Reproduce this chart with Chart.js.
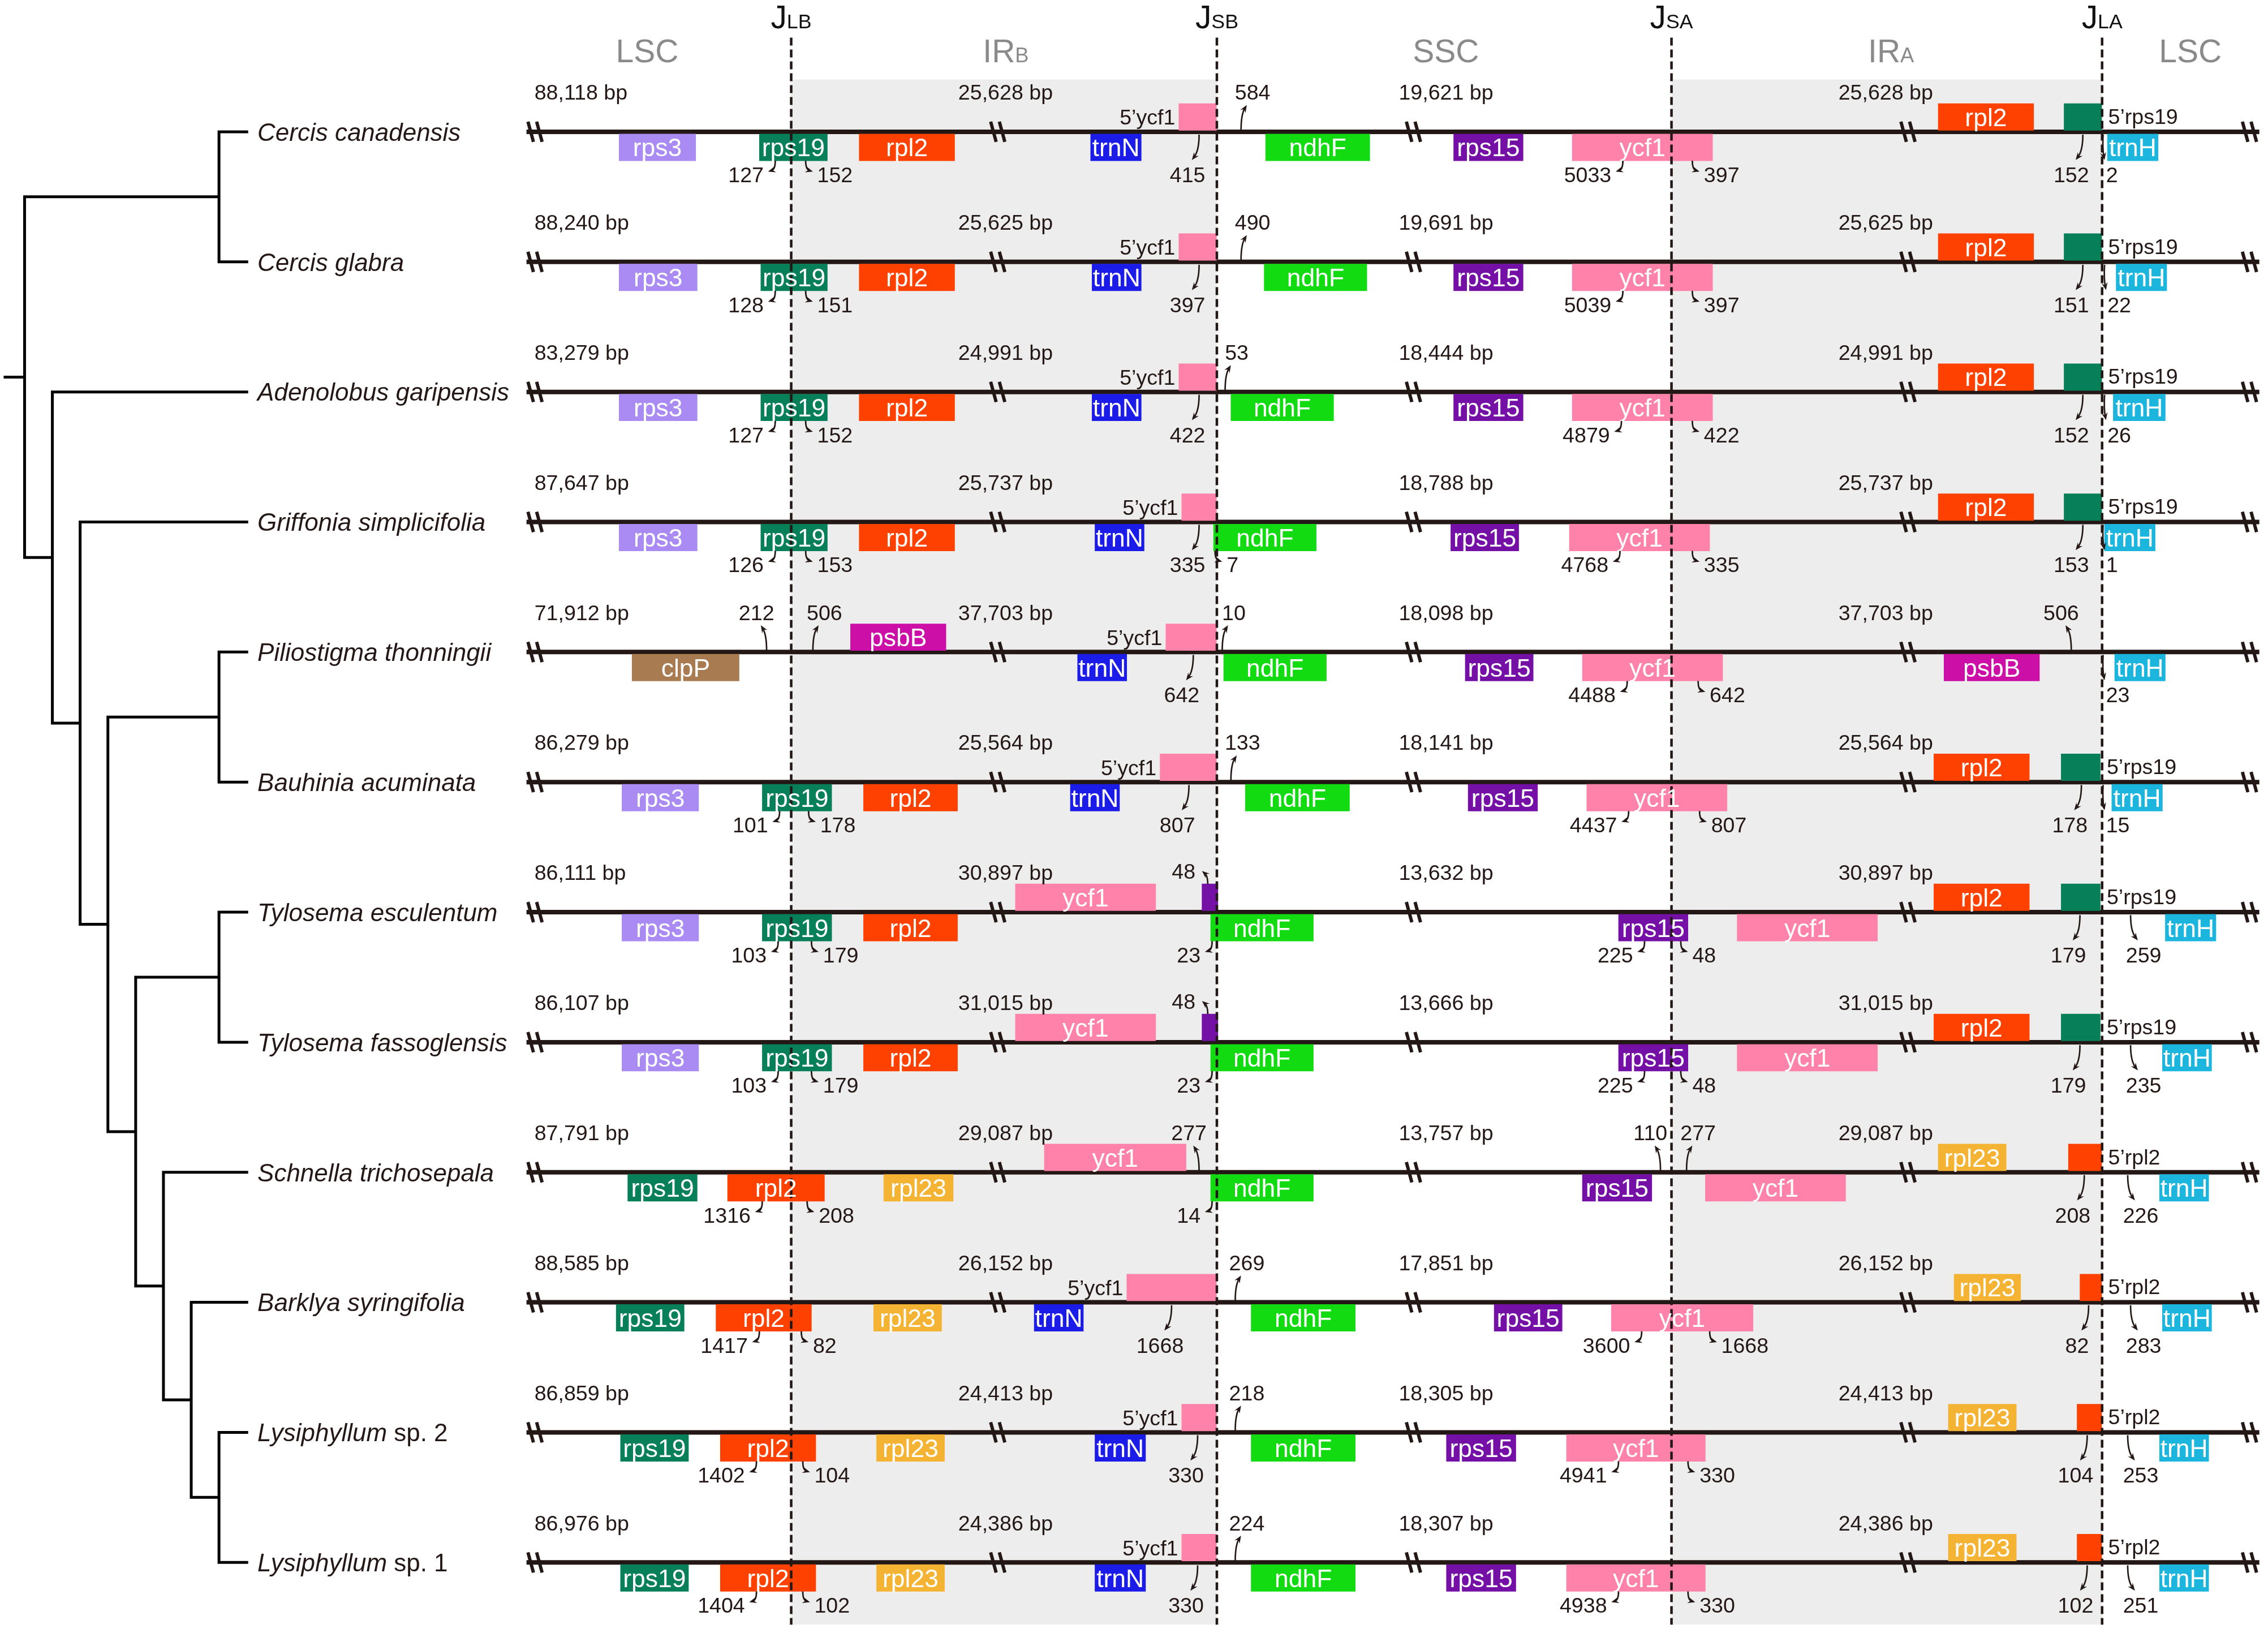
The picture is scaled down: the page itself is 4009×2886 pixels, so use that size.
<!DOCTYPE html>
<html>
<head>
<meta charset="utf-8">
<title>IR boundaries</title>
<script src="https://cdn.jsdelivr.net/npm/chart.js@4.4.1/dist/chart.umd.min.js"></script>
<style>
  html, body { margin: 0; padding: 0; background: #fff; }
  canvas { display: block; }
</style>
</head>
<body>
<canvas id="irChart" width="4009" height="2886"></canvas>
<script>
// ---- values ----
const species = ['Cercis canadensis', 'Cercis glabra', 'Adenolobus garipensis', 'Griffonia simplicifolia',
  'Piliostigma thonningii', 'Bauhinia acuminata', 'Tylosema esculentum', 'Tylosema fassoglensis',
  'Schnella trichosepala', 'Barklya syringifolia', 'Lysiphyllum', 'Lysiphyllum'];
const speciesSuffix = ['', '', '', '', '', '', '', '', '', '', ' sp. 2', ' sp. 1'];

const lscBp = ['88,118', '88,240', '83,279', '87,647', '71,912', '86,279', '86,111', '86,107', '87,791', '88,585', '86,859', '86,976'];
const irbBp = ['25,628', '25,625', '24,991', '25,737', '37,703', '25,564', '30,897', '31,015', '29,087', '26,152', '24,413', '24,386'];
const sscBp = ['19,621', '19,691', '18,444', '18,788', '18,098', '18,141', '13,632', '13,666', '13,757', '17,851', '18,305', '18,307'];
const iraBp = ['25,628', '25,625', '24,991', '25,737', '37,703', '25,564', '30,897', '31,015', '29,087', '26,152', '24,413', '24,386'];

// cladogram topology, leaves are row indices
const tree = [[0, 1], [2, [3, [[4, 5], [[6, 7], [8, [9, [10, 11]]]]]]]];

// genes per genome: [gene, from, to, side (u above / d below), label mode]
const geneRows = [
  [['rps3', 428, 481, 'd'], ['rps19', 525, 572, 'd'], ['rpl2', 594, 660, 'd'], ['trnN', 754, 789, 'd'], ['ycf1', 815, 841, 'u', 'L'], ['ndhF', 875, 947, 'd'],
   ['rps15', 1005, 1053, 'd'], ['ycf1', 1087, 1184, 'd'], ['rpl2', 1340, 1406, 'u'], ['rps19', 1427, 1453, 'u', 'R'], ['trnH', 1457, 1492, 'd']],
  [['rps3', 428, 482, 'd'], ['rps19', 526, 572, 'd'], ['rpl2', 594, 660, 'd'], ['trnN', 755, 789, 'd'], ['ycf1', 815, 841, 'u', 'L'], ['ndhF', 874, 945, 'd'],
   ['rps15', 1005, 1053, 'd'], ['ycf1', 1087, 1184, 'd'], ['rpl2', 1340, 1406, 'u'], ['rps19', 1427, 1453, 'u', 'R'], ['trnH', 1463, 1498, 'd']],
  [['rps3', 428, 482, 'd'], ['rps19', 526, 572, 'd'], ['rpl2', 594, 660, 'd'], ['trnN', 755, 789, 'd'], ['ycf1', 815, 841, 'u', 'L'], ['ndhF', 851, 922, 'd'],
   ['rps15', 1005, 1053, 'd'], ['ycf1', 1087, 1184, 'd'], ['rpl2', 1340, 1406, 'u'], ['rps19', 1427, 1453, 'u', 'R'], ['trnH', 1461, 1497, 'd']],
  [['rps3', 428, 482, 'd'], ['rps19', 526, 572, 'd'], ['rpl2', 594, 660, 'd'], ['trnN', 757, 791, 'd'], ['ycf1', 817, 841, 'u', 'L'], ['ndhF', 839, 910, 'd'],
   ['rps15', 1003, 1050, 'd'], ['ycf1', 1085, 1182, 'd'], ['rpl2', 1340, 1406, 'u'], ['rps19', 1427, 1453, 'u', 'R'], ['trnH', 1455, 1490, 'd']],
  [['clpP', 437, 511, 'd'], ['psbB', 588, 654, 'u'], ['trnN', 745, 779, 'd'], ['ycf1', 806, 841, 'u', 'L'], ['ndhF', 846, 917, 'd'],
   ['rps15', 1013, 1060, 'd'], ['ycf1', 1094, 1191, 'd'], ['psbB', 1344, 1410, 'd'], ['trnH', 1462, 1497, 'd']],
  [['rps3', 430, 483, 'd'], ['rps19', 527, 575, 'd'], ['rpl2', 597, 662, 'd'], ['trnN', 740, 774, 'd'], ['ycf1', 802, 841, 'u', 'L'], ['ndhF', 861, 933, 'd'],
   ['rps15', 1015, 1063, 'd'], ['ycf1', 1097, 1194, 'd'], ['rpl2', 1337, 1403, 'u'], ['rps19', 1425, 1452, 'u', 'R'], ['trnH', 1460, 1495, 'd']],
  [['rps3', 430, 483, 'd'], ['rps19', 527, 575, 'd'], ['rpl2', 597, 662, 'd'], ['ycf1', 702, 799, 'u'], ['rps15', 831, 842, 'u', '-'], ['ndhF', 837, 908, 'd'],
   ['rps15', 1119, 1167, 'd'], ['ycf1', 1201, 1298, 'd'], ['rpl2', 1337, 1403, 'u'], ['rps19', 1425, 1452, 'u', 'R'], ['trnH', 1497, 1532, 'd']],
  [['rps3', 430, 483, 'd'], ['rps19', 527, 575, 'd'], ['rpl2', 597, 662, 'd'], ['ycf1', 702, 799, 'u'], ['rps15', 831, 842, 'u', '-'], ['ndhF', 837, 908, 'd'],
   ['rps15', 1119, 1167, 'd'], ['ycf1', 1201, 1298, 'd'], ['rpl2', 1337, 1403, 'u'], ['rps19', 1425, 1452, 'u', 'R'], ['trnH', 1495, 1529, 'd']],
  [['rps19', 434, 482, 'd'], ['rpl2', 503, 570, 'd'], ['rpl23', 611, 659, 'd'], ['ycf1', 722, 820, 'u'], ['ndhF', 837, 908, 'd'],
   ['rps15', 1094, 1142, 'd'], ['ycf1', 1179, 1276, 'd'], ['rpl23', 1340, 1387, 'u'], ['rpl2', 1430, 1453, 'u', 'R'], ['trnH', 1493, 1527, 'd']],
  [['rps19', 426, 473, 'd'], ['rpl2', 495, 561, 'd'], ['rpl23', 604, 651, 'd'], ['trnN', 715, 749, 'd'], ['ycf1', 779, 841, 'u', 'L'], ['ndhF', 865, 937, 'd'],
   ['rps15', 1033, 1080, 'd'], ['ycf1', 1114, 1212, 'd'], ['rpl23', 1351, 1397, 'u'], ['rpl2', 1438, 1453, 'u', 'R'], ['trnH', 1495, 1529, 'd']],
  [['rps19', 429, 476, 'd'], ['rpl2', 498, 564, 'd'], ['rpl23', 606, 653, 'd'], ['trnN', 757, 792, 'd'], ['ycf1', 817, 841, 'u', 'L'], ['ndhF', 865, 937, 'd'],
   ['rps15', 1000, 1048, 'd'], ['ycf1', 1083, 1179, 'd'], ['rpl23', 1347, 1394, 'u'], ['rpl2', 1436, 1453, 'u', 'R'], ['trnH', 1493, 1527, 'd']],
  [['rps19', 429, 476, 'd'], ['rpl2', 498, 564, 'd'], ['rpl23', 606, 653, 'd'], ['trnN', 757, 792, 'd'], ['ycf1', 817, 841, 'u', 'L'], ['ndhF', 865, 937, 'd'],
   ['rps15', 1000, 1048, 'd'], ['ycf1', 1083, 1179, 'd'], ['rpl23', 1347, 1394, 'u'], ['rpl2', 1436, 1453, 'u', 'R'], ['trnH', 1493, 1527, 'd']]
];

// distances to the junctions: [text, arrow x, arrow kind]
const junctionNums = [
  [['127', 536, 'L'], ['152', 557, 'R'], ['415', 829, 'D'], ['584', 858, 'U'], ['5033', 1122, 'L'], ['397', 1170, 'R'], ['152', 1440, 'D'], ['2', 1454, 'J']],
  [['128', 536, 'L'], ['151', 557, 'R'], ['397', 829, 'D'], ['490', 858, 'U'], ['5039', 1122, 'L'], ['397', 1170, 'R'], ['151', 1440, 'D'], ['22', 1455, 'J']],
  [['127', 536, 'L'], ['152', 557, 'R'], ['422', 829, 'D'], ['53', 847, 'U'], ['4879', 1121, 'L'], ['422', 1170, 'R'], ['152', 1440, 'D'], ['26', 1455, 'J']],
  [['126', 536, 'L'], ['153', 557, 'R'], ['335', 829, 'D'], ['7', 840, 'R'], ['4768', 1120, 'L'], ['335', 1170, 'R'], ['153', 1440, 'D'], ['1', 1454, 'J']],
  [['212', 530, 'UC'], ['506', 562, 'U'], ['642', 825, 'D'], ['10', 845, 'U'], ['4488', 1125, 'L'], ['642', 1174, 'R'], ['506', 1432, 'UC'], ['23', 1454, 'J']],
  [['101', 539, 'L'], ['178', 559, 'R'], ['807', 822, 'D'], ['133', 851, 'U'], ['4437', 1126, 'L'], ['807', 1175, 'R'], ['178', 1439, 'D'], ['15', 1454, 'J']],
  [['103', 538, 'L'], ['179', 561, 'R'], ['48', 835, 'UL'], ['23', 838, 'L'], ['225', 1137, 'L'], ['48', 1162, 'R'], ['179', 1438, 'D'], ['259', 1473, 'E']],
  [['103', 538, 'L'], ['179', 561, 'R'], ['48', 835, 'UL'], ['23', 838, 'L'], ['225', 1137, 'L'], ['48', 1162, 'R'], ['179', 1438, 'D'], ['235', 1473, 'E']],
  [['1316', 527, 'L'], ['208', 558, 'R'], ['277', 829, 'UC'], ['14', 838, 'L'], ['110', 1148, 'UC'], ['277', 1166, 'U'], ['208', 1441, 'D'], ['226', 1471, 'E']],
  [['1417', 525, 'L'], ['82', 554, 'R'], ['1668', 810, 'D'], ['269', 854, 'U'], ['3600', 1135, 'L'], ['1668', 1182, 'R'], ['82', 1444, 'D'], ['283', 1473, 'E']],
  [['1402', 523, 'L'], ['104', 555, 'R'], ['330', 828, 'D'], ['218', 854, 'U'], ['4941', 1119, 'L'], ['330', 1167, 'R'], ['104', 1443, 'D'], ['253', 1471, 'E']],
  [['1404', 523, 'L'], ['102', 555, 'R'], ['330', 828, 'D'], ['224', 854, 'U'], ['4938', 1119, 'L'], ['330', 1167, 'R'], ['102', 1443, 'D'], ['251', 1471, 'E']]
];

const junctionNames = ['LB', 'SB', 'SA', 'LA'];
const regionNames = [['LSC', ''], ['IR', 'B'], ['SSC', ''], ['IR', 'A'], ['LSC', '']];

// ---- layout and style ----
const W = 1568;                       // diagram units across the canvas
const H = 2886 * W / 4009;
const UNIT = 4009 / W;                // canvas px per unit
const rowY = species.map((_, i) => 91.1 + 89.9 * i);
const junctionX = [547, 841.3, 1155.6, 1453.3];
const regionX = [447.4, 695.4, 999.6, 1307.4, 1514.3];
const bpX = [369.5, 662.5, 967, 1271];
const breakX = [370.4, 690.3, 977.7, 1319.6, 1555.7];
const LINE_X0 = 364, LINE_X1 = 1562;
const ink = '#231815';
const FONT = 'Arial, "Liberation Sans", Helvetica, sans-serif';

const geneColors = {
  rps3: '#a98bf3', rps19: '#077f58', rpl2: '#ff4100', trnN: '#1c1ce8', ycf1: '#ff82ab',
  ndhF: '#12db12', rps15: '#7510a6', trnH: '#1bb5dd', clpP: '#a87b50', psbB: '#cb0fa7', rpl23: '#f5b333'
};

// genes as floating bars
const geneList = [];
geneRows.forEach((genes, r) => genes.forEach(g => geneList.push({ row: r, gene: g[0], from: g[1], to: g[2], side: g[3], mode: g[4] || 'in' })));
const geneData = geneList.map(g => ({ x: [g.from, g.to], y: rowY[g.row] + (g.side === 'u' ? -10.25 : 10.75) }));
const geneFill = geneList.map(g => geneColors[g.gene]);

// genome lines
const genomeSegs = [];
rowY.forEach(y => genomeSegs.push({ x: LINE_X0, y }, { x: LINE_X1, y }, { x: LINE_X1, y: null }));

// dashed junction lines
const junctionSegs = [];
junctionX.forEach(x => junctionSegs.push({ x, y: 26 }, { x, y: 1123 }, { x, y: null }));

// cladogram
const treeSegs = [];
const treeX = h => 17 + 19.2 * (8 - h);
function seg(x0, y0, x1, y1) { treeSegs.push({ x: x0, y: y0 }, { x: x1, y: y1 }, { x: x1, y: null }); }
function walk(node) {
  if (typeof node === 'number') return { x: treeX(0), y: rowY[node], h: 0 };
  const kids = node.map(walk);
  const h = 1 + Math.max(...kids.map(k => k.h));
  const x = treeX(h);
  kids.forEach(k => seg(x, k.y, k.x, k.y));
  seg(x, kids[0].y, x, kids[kids.length - 1].y);
  return { x, y: (kids[0].y + kids[kids.length - 1].y) / 2, h };
}
const rootNode = walk(tree);
seg(3.5, rootNode.y, rootNode.x, rootNode.y);

// arrow shapes, relative to (arrow x, genome line)
const arrowKinds = {
  L:  { p0: [0, 20], pc: [0, 26], p1: [-5, 27.5], tx: -8, ty: 29.5, align: 'right' },
  R:  { p0: [0, 20], pc: [0, 26], p1: [5, 27.5], tx: 8, ty: 29.5, align: 'left' },
  D:  { p0: [0, 2], pc: [0, 13], p1: [-5, 19.5], tx: -8, ty: 29.5, align: 'center' },
  E:  { p0: [0, 2], pc: [0, 13], p1: [5, 19.5], tx: 9, ty: 29.5, align: 'center' },
  J:  { p0: [0, 2], pc: [-0.5, 12], p1: [1, 19.5], tx: 2, ty: 29.5, align: 'left' },
  U:  { p0: [0, -1], pc: [0, -12], p1: [4, -18.5], tx: 8, ty: -27.5, align: 'center' },
  UC: { p0: [0, -1], pc: [0, -12], p1: [-4, -18.5], tx: -7, ty: -27.5, align: 'center' },
  UL: { p0: [0, -19.5], pc: [0, -25], p1: [-4, -28.5], tx: -8.5, ty: -28.5, align: 'right' }
};

function textAt(ctx, str, x, yMid, size, align) {
  ctx.textAlign = align;
  ctx.textBaseline = 'alphabetic';
  ctx.fillText(str, x, yMid + size * 0.36);
}

function curvedArrow(ctx, p0, pc, p1, u) {
  const a = Math.atan2(p1[1] - pc[1], p1[0] - pc[0]);
  const len = 5.2 * u, half = 2.1 * u;
  ctx.beginPath();
  ctx.moveTo(p0[0], p0[1]);
  ctx.quadraticCurveTo(pc[0], pc[1], p1[0] - Math.cos(a) * len * 0.5, p1[1] - Math.sin(a) * len * 0.5);
  ctx.stroke();
  const bx = p1[0] - Math.cos(a) * len, by = p1[1] - Math.sin(a) * len;
  ctx.beginPath();
  ctx.moveTo(p1[0], p1[1]);
  ctx.lineTo(bx - Math.sin(a) * half, by + Math.cos(a) * half);
  ctx.lineTo(p1[0] - Math.cos(a) * len * 0.65, p1[1] - Math.sin(a) * len * 0.65);
  ctx.lineTo(bx + Math.sin(a) * half, by - Math.cos(a) * half);
  ctx.closePath();
  ctx.fill();
}

function subLabel(ctx, main, sub, cx, base, mainSize, subSize) {
  ctx.font = `${mainSize}px ${FONT}`;
  const w1 = ctx.measureText(main).width;
  ctx.font = `${subSize}px ${FONT}`;
  const w2 = sub ? ctx.measureText(sub).width : 0;
  const x0 = cx - (w1 + w2) / 2;
  ctx.textAlign = 'left';
  ctx.textBaseline = 'alphabetic';
  ctx.font = `${mainSize}px ${FONT}`;
  ctx.fillText(main, x0, base);
  if (sub) {
    ctx.font = `${subSize}px ${FONT}`;
    ctx.fillText(sub, x0 + w1, base);
  }
}

const diagramPlugin = {
  id: 'irDiagram',
  beforeDatasetsDraw(chart) {
    const { ctx, scales: { x, y } } = chart;
    ctx.save();
    ctx.fillStyle = '#ededed';
    [[0, 1], [2, 3]].forEach(([a, b]) => {
      const x0 = x.getPixelForValue(junctionX[a]), x1 = x.getPixelForValue(junctionX[b]);
      const y0 = y.getPixelForValue(55), y1 = y.getPixelForValue(1123);
      ctx.fillRect(x0, y0, x1 - x0, y1 - y0);
    });
    ctx.restore();
  },
  afterDatasetsDraw(chart) {
    const { ctx, scales: { x, y } } = chart;
    const X = v => x.getPixelForValue(v);
    const Y = v => y.getPixelForValue(v);
    const u = X(1) - X(0);
    ctx.save();

    // break marks on every genome line
    ctx.strokeStyle = ink;
    ctx.lineWidth = 2.3 * u;
    ctx.lineCap = 'butt';
    rowY.forEach(ry => breakX.forEach(bx => {
      [[-5.4, -1.6], [0.6, 4.4]].forEach(([a, b]) => {
        ctx.beginPath();
        ctx.moveTo(X(bx + a), Y(ry - 7));
        ctx.lineTo(X(bx + b), Y(ry + 7));
        ctx.stroke();
      });
    }));

    // gene names
    const meta = chart.getDatasetMeta(1);
    const gSize = 17.4 * u, nSize = 14.7 * u;
    geneList.forEach((g, i) => {
      const el = meta.data[i];
      if (!el) return;
      const left = Math.min(el.x, el.base), right = Math.max(el.x, el.base);
      if (g.mode === 'in') {
        ctx.fillStyle = '#ffffff';
        ctx.font = `${gSize}px ${FONT}`;
        textAt(ctx, g.gene, (left + right) / 2, el.y, gSize, 'center');
      } else if (g.mode === 'L') {
        ctx.fillStyle = ink;
        ctx.font = `${nSize}px ${FONT}`;
        textAt(ctx, '5\u2019' + g.gene, left - 2.5 * u, el.y, nSize, 'right');
      } else if (g.mode === 'R') {
        ctx.fillStyle = ink;
        ctx.font = `${nSize}px ${FONT}`;
        textAt(ctx, '5\u2019' + g.gene, right + 4.5 * u, el.y - 0.6 * u, nSize, 'left');
      }
    });

    // genome sizes and junction distances
    ctx.fillStyle = ink;
    ctx.strokeStyle = ink;
    ctx.lineWidth = 1.05 * u;
    ctx.font = `${nSize}px ${FONT}`;
    rowY.forEach((ry, r) => {
      [lscBp[r], irbBp[r], sscBp[r], iraBp[r]].forEach((v, k) => textAt(ctx, v + ' bp', X(bpX[k]), Y(ry - 27.5), nSize, 'left'));
      junctionNums[r].forEach(([txt, ax, kind]) => {
        const k = arrowKinds[kind];
        curvedArrow(ctx, [X(ax + k.p0[0]), Y(ry + k.p0[1])], [X(ax + k.pc[0]), Y(ry + k.pc[1])], [X(ax + k.p1[0]), Y(ry + k.p1[1])], u);
        textAt(ctx, txt, X(ax + k.tx), Y(ry + k.ty), nSize, k.align);
      });
    });

    // taxon names
    const sSize = 17.2 * u;
    rowY.forEach((ry, r) => {
      ctx.textAlign = 'left';
      ctx.textBaseline = 'alphabetic';
      ctx.font = `italic ${sSize}px ${FONT}`;
      const base = Y(ry) + sSize * 0.36;
      ctx.fillText(species[r], X(178), base);
      if (speciesSuffix[r]) {
        const w = ctx.measureText(species[r]).width;
        ctx.font = `${sSize}px ${FONT}`;
        ctx.fillText(speciesSuffix[r], X(178) + w, base);
      }
    });

    // header: junctions and regions
    ctx.fillStyle = '#111111';
    junctionNames.forEach((n, i) => subLabel(ctx, 'J', n, X(junctionX[i]), Y(19.6), 22.2 * u, 14 * u));
    ctx.fillStyle = '#8a8a8a';
    regionNames.forEach(([m, s], i) => subLabel(ctx, m, s, X(regionX[i]), Y(43), 22.3 * u, 14.2 * u));

    ctx.restore();
  }
};

new Chart(document.getElementById('irChart'), {
  type: 'line',
  data: {
    datasets: [
      { type: 'line', label: 'junctions', data: junctionSegs, borderColor: ink, borderWidth: 4.5, borderDash: [14, 7],
        pointRadius: 0, spanGaps: false, order: 0 },
      { type: 'bar', label: 'genes', indexAxis: 'y', data: geneData, backgroundColor: geneFill, borderWidth: 0,
        barThickness: 18.5 * UNIT, grouped: false, order: 1 },
      { type: 'line', label: 'genomes', data: genomeSegs, borderColor: ink, borderWidth: 8, pointRadius: 0,
        spanGaps: false, order: 2 },
      { type: 'line', label: 'tree', data: treeSegs, borderColor: '#000000', borderWidth: 5, borderCapStyle: 'square',
        pointRadius: 0, spanGaps: false, order: 3 }
    ]
  },
  options: {
    responsive: false,
    devicePixelRatio: 1,
    animation: false,
    events: [],
    layout: { padding: 0 },
    plugins: { legend: { display: false }, tooltip: { enabled: false } },
    scales: {
      x: { type: 'linear', min: 0, max: W, display: false, offset: false },
      y: { type: 'linear', min: 0, max: H, reverse: true, display: false, offset: false }
    }
  },
  plugins: [diagramPlugin]
});
</script>
</body>
</html>
